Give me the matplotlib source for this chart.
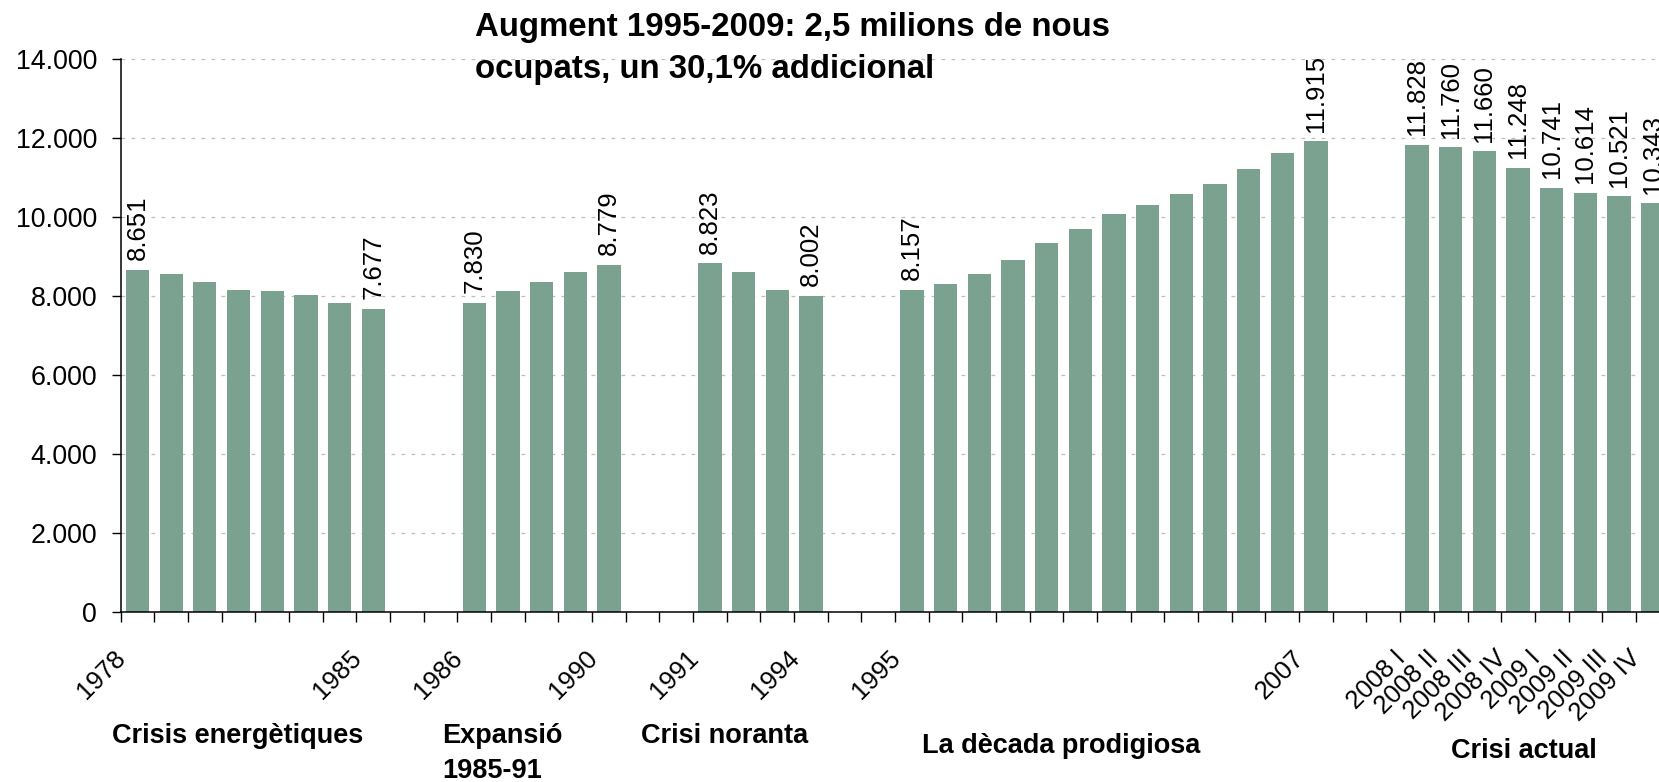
import matplotlib
matplotlib.use("Agg")
import matplotlib.pyplot as plt
from matplotlib.transforms import ScaledTranslation

plt.rcParams['font.family'] = ['Liberation Sans', 'DejaVu Sans']

# ---------------- data ----------------
group_names = ["Crisis energètiques", "Expansió\n1985-91", "Crisi noranta",
               "La dècada prodigiosa", "Crisi actual"]

cats_crisis = ["1978", "1979", "1980", "1981", "1982", "1983", "1984", "1985"]
vals_crisis = [8651, 8554, 8351, 8149, 8123, 8022, 7819, 7677]

cats_expansio = ["1986", "1987", "1988", "1989", "1990"]
vals_expansio = [7830, 8123, 8351, 8605, 8779]

cats_noranta = ["1991", "1992", "1993", "1994"]
vals_noranta = [8823, 8605, 8149, 8002]

cats_decada = ["1995", "1996", "1997", "1998", "1999", "2000", "2001",
               "2002", "2003", "2004", "2005", "2006", "2007"]
vals_decada = [8157, 8301, 8554, 8909, 9339, 9694, 10074, 10302, 10581,
               10834, 11213, 11619, 11915]

cats_actual = ["2008 I", "2008 II", "2008 III", "2008 IV",
               "2009 I", "2009 II", "2009 III", "2009 IV"]
vals_actual = [11828, 11760, 11660, 11248, 10741, 10614, 10521, 10343]

# categories shown on the axis / with value labels
shown_ticks = ["1978", "1985", "1986", "1990", "1991", "1994", "1995", "2007",
               "2008 I", "2008 II", "2008 III", "2008 IV",
               "2009 I", "2009 II", "2009 III", "2009 IV"]
labelled_bars = shown_ticks

title_lines = ["Augment 1995-2009: 2,5 milions de nous",
               "ocupats, un 30,1% addicional"]

y_ticks = [0, 2000, 4000, 6000, 8000, 10000, 12000, 14000]

groups_cats = [cats_crisis, cats_expansio, cats_noranta, cats_decada, cats_actual]
groups_vals = [vals_crisis, vals_expansio, vals_noranta, vals_decada, vals_actual]

# ---------------- layout ----------------
W, H = 1659, 782
fig = plt.figure(figsize=(W / 100, H / 100), dpi=100)

ax_left, ax_right = 120.7, 120.7 + 46 * 33.67
ax_top, ax_bottom = 59.0, 611.7
ax = fig.add_axes([ax_left / W, 1 - ax_bottom / H,
                   (ax_right - ax_left) / W, (ax_bottom - ax_top) / H])

GAP = 2
bar_color = "#7ba291"

xs, names, vals = [], [], []
pos = 0
for gi, (cats, vv) in enumerate(zip(groups_cats, groups_vals)):
    if gi > 0:
        pos += GAP
    for c, v in zip(cats, vv):
        xs.append(pos)
        names.append(c)
        vals.append(v)
        pos += 1
n_slots = pos

ax.bar(xs, vals, width=0.69, color=bar_color, zorder=3)

for x, n, v in zip(xs, names, vals):
    if n in labelled_bars:
        ax.annotate(f"{v:,}".replace(",", "."), (x, v), xytext=(0, 7),
                    textcoords="offset points", rotation=90,
                    ha="center", va="bottom", fontsize=18.5, color="black",
                    annotation_clip=False, zorder=4)

ax.set_xlim(-0.5, n_slots - 0.5)
ax.set_ylim(0, 14000)

# y axis
ax.set_yticks(y_ticks)
ax.set_yticklabels([f"{t:,}".replace(",", ".") for t in y_ticks], fontsize=19.3)
ax.tick_params(axis="y", length=6.5, width=1, pad=10.5, direction="out")
for t in y_ticks[1:]:
    ax.axhline(t, color="#bdbdbd", lw=0.9, ls=(0, (3, 5)), zorder=1)

# x axis: major ticks at slot boundaries, labels at centres
ax.set_xticks([i - 0.5 for i in range(n_slots + 1)])
ax.set_xticklabels([])
ax.tick_params(axis="x", which="major", length=7.5, width=1, direction="out")
ax.set_xticks(xs, minor=True)
ax.set_xticklabels([n if n in shown_ticks else "" for n in names], minor=True,
                   rotation=45, ha="right", va="baseline",
                   rotation_mode="anchor", fontsize=18.5)
ax.tick_params(axis="x", which="minor", length=0, pad=34.5)
off = ScaledTranslation(-10.5 / 100, 0, fig.dpi_scale_trans)
for lab in ax.get_xticklabels(minor=True):
    lab.set_transform(lab.get_transform() + off)

for s in ["top", "right"]:
    ax.spines[s].set_visible(False)
for s in ["left", "bottom"]:
    ax.spines[s].set_linewidth(1.1)
    ax.spines[s].set_zorder(5)

# title
fig.text(475 / W, 1 - 36 / H, title_lines[0], fontsize=23.8, fontweight="bold",
         ha="left", va="baseline")
fig.text(475 / W, 1 - 78 / H, title_lines[1], fontsize=23.8, fontweight="bold",
         ha="left", va="baseline")

# group labels
fig.text(238 / W, 1 - 743 / H, group_names[0], fontsize=19.5, fontweight="bold",
         ha="center", va="baseline")
exp_lines = group_names[1].split("\n")
fig.text(442 / W, 1 - 743 / H, exp_lines[0], fontsize=19.5, fontweight="bold",
         ha="left", va="baseline")
fig.text(442 / W, 1 - 778 / H, exp_lines[1], fontsize=19.5, fontweight="bold",
         ha="left", va="baseline")
fig.text(725 / W, 1 - 743 / H, group_names[2], fontsize=19.5, fontweight="bold",
         ha="center", va="baseline")
fig.text(1061 / W, 1 - 753 / H, group_names[3], fontsize=19.5, fontweight="bold",
         ha="center", va="baseline")
fig.text(1524 / W, 1 - 758 / H, group_names[4], fontsize=19.5, fontweight="bold",
         ha="center", va="baseline")

fig.savefig("out.png", dpi=100)
